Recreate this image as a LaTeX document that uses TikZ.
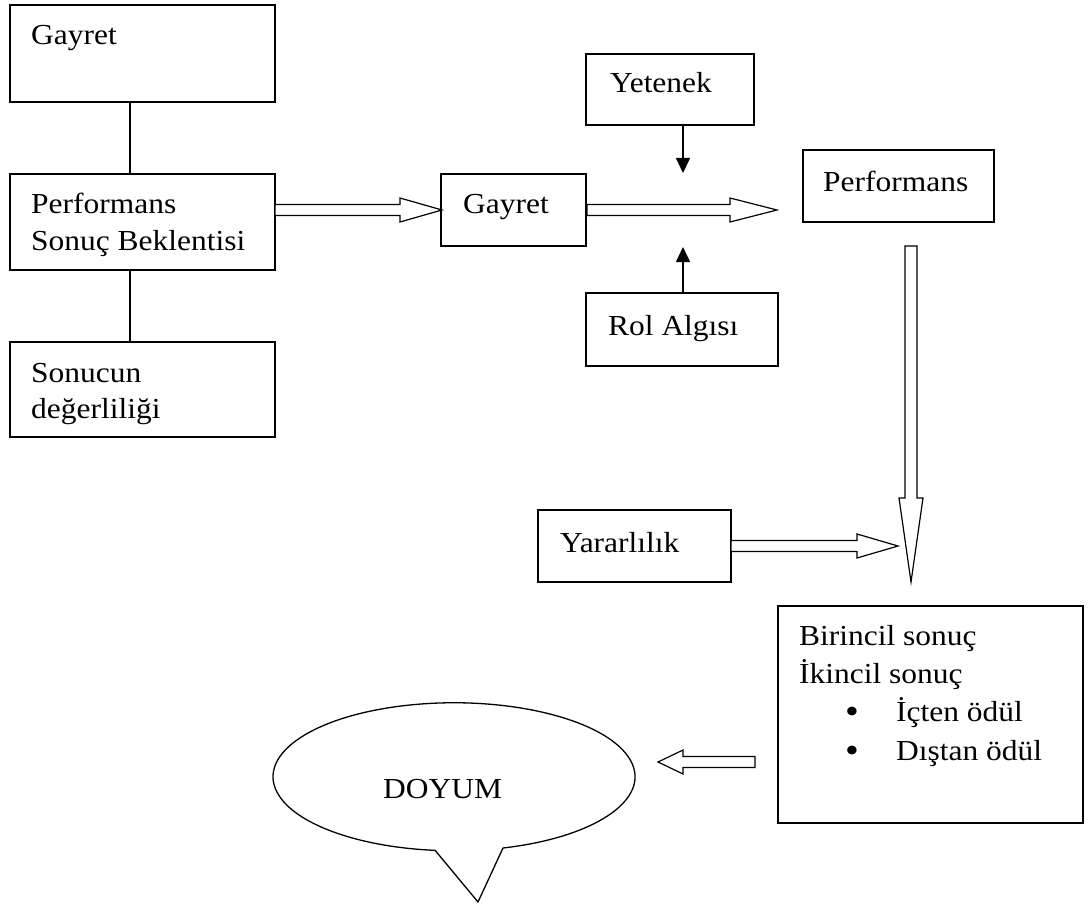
\documentclass[tikz,border=0pt]{standalone}
\usepackage{fontspec}
\setmainfont{Liberation Serif}[FakeStretch=1.085]
\usetikzlibrary{arrows.meta}
\newcommand\myharrow[4]{% xstart, xheadbase, xtip, ycenter
  \draw[barrow] (#1,#4-5.5) -- (#2,#4-5.5) -- (#2,#4-12) -- (#3,#4) -- (#2,#4+12) -- (#2,#4+5.5) -- (#1,#4+5.5) -- cycle;}
\newcommand\myvarrow[4]{% xcenter, ystart, yheadbase, ytip
  \draw[barrow] (#1-6,#2) -- (#1-6,#3) -- (#1-12,#3) -- (#1,#4) -- (#1+12,#3) -- (#1+6,#3) -- (#1+6,#2) -- cycle;}
\begin{document}
\begin{tikzpicture}[x=1pt,y=-1pt,
  box/.style={draw, line width=1.3pt, inner sep=0pt, fill=white},
  txt/.style={anchor=base west, inner sep=0pt, font=\fontsize{29}{37}\selectfont},
  barrow/.style={draw, line width=1.2pt, line join=miter, fill=white},
  conn/.style={line width=1.3pt},
  tri/.style={line width=1.3pt, -{Triangle[length=15pt,width=14pt]}}]
\useasboundingbox (0,0) rectangle (1089,904);
% left column
\node[box, minimum width=265pt, minimum height=97pt] (g1) at (142.5,53.5) {};
\node[box, minimum width=265pt, minimum height=96pt] (psb) at (142.5,222) {};
\node[box, minimum width=265pt, minimum height=95pt] (sd) at (142.5,389.5) {};
\node[txt] (g1t) at (31,45) {Gayret};
\node[txt] (psbt1) at (31,213) {Performans};
\node[txt] (psbt2) at (31,250) {Sonuç Beklentisi};
\node[txt] (sdt1) at (31,382) {Sonucun};
\node[txt] (sdt2) at (31,418) {değerliliği};
\coordinate (lx) at (130,0);
\draw[conn] (g1.south -| lx) -- (psb.north -| lx);
\draw[conn] (psb.south -| lx) -- (sd.north -| lx);
% middle
\node[box, minimum width=145pt, minimum height=72pt] (gy) at (513.5,210) {};
\node[txt] (gyt) at (463,214) {Gayret};
\node[box, minimum width=168pt, minimum height=71pt] (yt) at (670,89.5) {};
\node[txt] (ytt) at (610,93) {Yetenek};
\node[box, minimum width=192pt, minimum height=73pt] (rol) at (682,329.5) {};
\node[txt] (rolt) at (608,335) {Rol Algısı};
\node[box, minimum width=191pt, minimum height=72pt] (perf) at (898.5,186) {};
\node[txt] (perft) at (823,192) {Performans};
\node[box, minimum width=193pt, minimum height=72pt] (yar) at (634.5,546) {};
\node[txt] (yart) at (560,552) {Yararlılık};
\node[box, minimum width=305pt, minimum height=217pt] (bir) at (930.5,714.5) {};
\node[txt] (birt1) at (799,645) {Birincil sonuç};
\node[txt] (birt2) at (799,683) {İkincil sonuç};
\node[txt] (b1) at (845,723) {\scalebox{1.25}{•}};
\node[txt] (birt3) at (896,721) {İçten ödül};
\node[txt] (b2) at (845,762) {\scalebox{1.25}{•}};
\node[txt] (birt4) at (896,760) {Dıştan ödül};
% thin arrows
\coordinate (ytarr) at (683,173);
\coordinate (rolarr) at (683,247);
\draw[tri] (yt.south -| ytarr) -- (ytarr);
\draw[tri] (rol.north -| rolarr) -- (rolarr);
% block arrows
\myharrow{275}{400}{442}{210}
\myharrow{587}{730}{777}{210}
\myvarrow{911}{246}{498}{582}
\myharrow{731}{857}{898}{546}
\myharrow{755}{683}{658}{762}
% callout
\draw[line width=1.3pt, line join=miter] (503,848) arc[start angle=74.3, end angle=-264, x radius=181, y radius=74] -- (478,902) -- cycle;
\node[txt] (doyum) at (383,798) {DOYUM};
\end{tikzpicture}
\end{document}
